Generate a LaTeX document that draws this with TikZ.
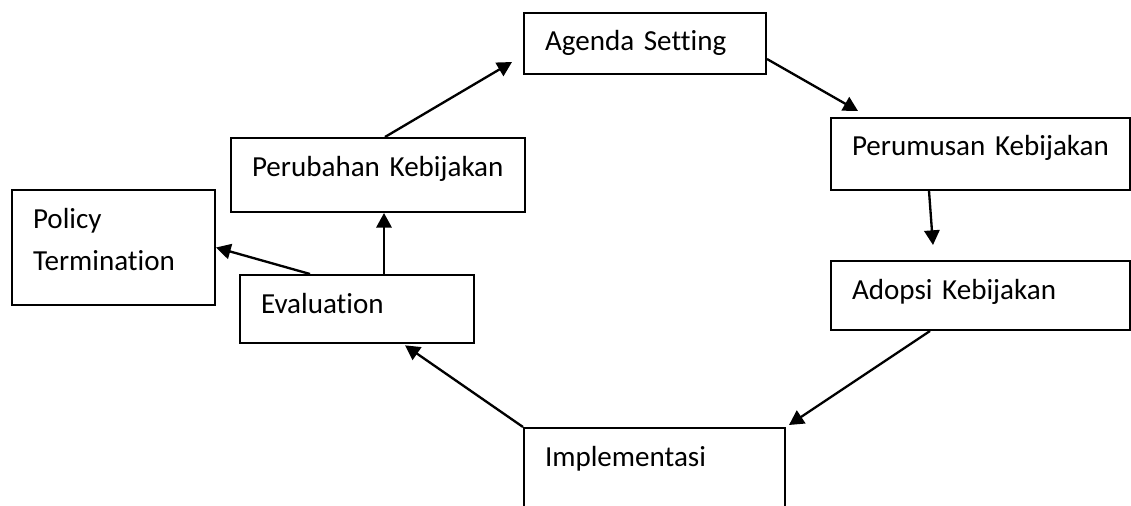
\documentclass[tikz,border=0pt]{standalone}
\usepackage{fontspec}
\setmainfont{Carlito}[Ligatures=NoCommon]
\usetikzlibrary{arrows.meta}

\tikzset{
  box/.style={draw, line width=1.5pt, anchor=north west, align=left,
    inner xsep=15.75pt, inner ysep=0pt, text height=28.5pt,
    font=\fontsize{21.8}{32}\selectfont},
  arr/.style={line width=1.75pt, -{Triangle[length=11pt,width=11.5pt]}}
}

\begin{document}
\begin{tikzpicture}[x=0.75pt,y=-0.75pt]
    \useasboundingbox (0,0) rectangle (1131,506);
    \clip (0,0) rectangle (1131,506);

    % Boxes of the cycle
    \node[box, text width=150pt, text depth=17.25pt] (agenda) at (523,12) {Agenda Setting};
    \node[box, text width=192.75pt, text depth=25.5pt] (perumusan) at (830,117) {Perumusan Kebijakan};
    \node[box, text width=192.75pt, text depth=23.25pt] (adopsi) at (830,260) {Adopsi Kebijakan};
    \node[box, text width=164.25pt, text depth=80pt] (implementasi) at (523,427) {Implementasi};
    \node[box, text width=144pt, text depth=22.5pt] (evaluation) at (239,274) {Evaluation};
    \node[box, text width=189pt, text depth=27pt] (perubahan) at (230,137) {Perubahan Kebijakan};
    \node[box, text width=120.75pt, text depth=57.75pt] (policy) at (11,189) {Policy\\Termination};

    % Arrows
    \draw[arr] ([xshift=5.25pt]perubahan.north) -- ([xshift=-8.25pt,yshift=9.75pt]agenda.south west);
    \draw[arr] ([yshift=12pt]agenda.south east) -- ([xshift=21pt,yshift=4.5pt]perumusan.north west);
    \draw[arr] ([xshift=74.25pt]perumusan.south west) -- ([xshift=77.25pt,yshift=11.25pt]adopsi.north west);
    \draw[arr] ([xshift=75pt]adopsi.south west) -- ([xshift=2.25pt,yshift=1.5pt]implementasi.north east);
    \draw[arr] (implementasi.north west) -- ([xshift=124.5pt,yshift=-1pt]evaluation.south west);
    \draw[arr] ([xshift=108.75pt]evaluation.north west) -- ([xshift=115.5pt]perubahan.south west);
    \draw[arr] ([xshift=53.25pt]evaluation.north west) -- (policy.east);
\end{tikzpicture}
\end{document}
